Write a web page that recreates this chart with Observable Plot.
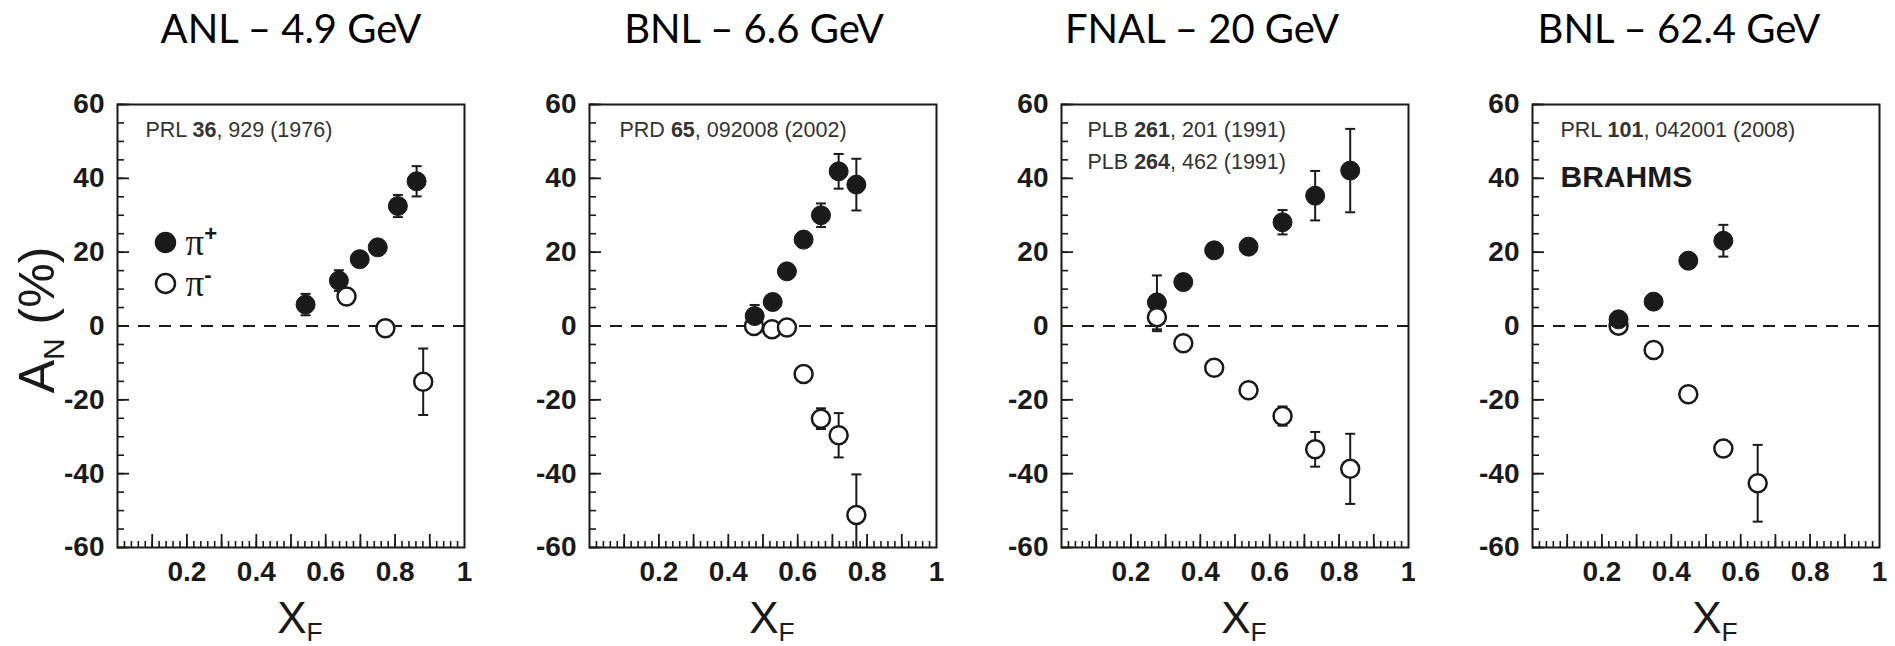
<!DOCTYPE html>
<html><head><meta charset="utf-8">
<script src="https://cdn.jsdelivr.net/npm/d3@7"></script>
<script src="https://cdn.jsdelivr.net/npm/@observablehq/plot@0.6"></script>
<style>
html,body{margin:0;padding:0;background:#fff;}
#row{display:flex;width:1895px;height:646px;overflow:hidden;}
#row svg{display:block;flex:none;}
</style></head><body><div id="row"></div>
<script>
// ---------- text ----------
const panelTitles = ["ANL – 4.9 GeV", "BNL – 6.6 GeV", "FNAL – 20 GeV", "BNL – 62.4 GeV"];
const panelRefs = [
  ["PRL **36**, 929 (1976)"],
  ["PRD **65**, 092008 (2002)"],
  ["PLB **261**, 201 (1991)", "PLB **264**, 462 (1991)"],
  ["PRL **101**, 042001 (2008)"]
];
const panelNotes = ["", "", "", "BRAHMS"];
const yTitle = "A_{N} (%)";
const xTitle = "X_{F}";
const legendLabels = ["π^{+}", "π^{-}"];
const yTickLabels = [-60, -40, -20, 0, 20, 40, 60];
const xTickLabels = [0.2, 0.4, 0.6, 0.8, 1];

// ---------- ANL 4.9 GeV ----------
const anlPlusX = [0.542, 0.638, 0.698, 0.750, 0.808, 0.862];
const anlPlusA = [5.8, 12.3, 18.1, 21.3, 32.5, 39.2];
const anlPlusE = [2.9, 2.8, 2.0, 2.0, 3.0, 4.1];
const anlMinusX = [0.660, 0.772, 0.881];
const anlMinusA = [8.0, -0.6, -15.1];
const anlMinusE = [2.0, 2.0, 9.0];

// ---------- BNL 6.6 GeV ----------
const bnl6PlusX = [0.476, 0.528, 0.569, 0.617, 0.667, 0.718, 0.769];
const bnl6PlusA = [2.7, 6.5, 14.8, 23.4, 30.0, 41.9, 38.3];
const bnl6PlusE = [3.0, 2.0, 2.0, 2.0, 3.2, 4.7, 7.0];
const bnl6MinusX = [0.474, 0.526, 0.569, 0.617, 0.667, 0.718, 0.769];
const bnl6MinusA = [0.0, -0.9, -0.4, -13.0, -25.1, -29.6, -51.2];
const bnl6MinusE = [1.5, 1.5, 1.5, 2.0, 2.8, 6.0, 11.0];

// ---------- FNAL 20 GeV ----------
const fnalPlusX = [0.275, 0.351, 0.440, 0.539, 0.637, 0.731, 0.832];
const fnalPlusA = [6.4, 11.9, 20.5, 21.5, 28.1, 35.3, 42.1];
const fnalPlusE = [7.3, 2.0, 2.0, 2.0, 3.3, 6.7, 11.3];
const fnalMinusX = [0.275, 0.351, 0.440, 0.539, 0.637, 0.731, 0.832];
const fnalMinusA = [2.4, -4.7, -11.3, -17.4, -24.4, -33.4, -38.7];
const fnalMinusE = [3.8, 2.0, 2.0, 2.0, 2.6, 4.7, 9.5];

// ---------- BNL 62.4 GeV ----------
const bnl62PlusX = [0.248, 0.349, 0.449, 0.550];
const bnl62PlusA = [1.8, 6.6, 17.7, 23.1];
const bnl62PlusE = [2.0, 2.0, 2.0, 4.3];
const bnl62MinusX = [0.248, 0.349, 0.449, 0.550, 0.649];
const bnl62MinusA = [0.1, -6.5, -18.5, -33.2, -42.6];
const bnl62MinusE = [2.0, 2.0, 2.0, 2.0, 10.4];

// ---------- build ----------
const rows = (X, A, E) => X.map((x, i) => ({x, a: A[i], e: E[i]}));
const panels = [
  {plus: rows(anlPlusX, anlPlusA, anlPlusE), minus: rows(anlMinusX, anlMinusA, anlMinusE), openOnTop: true},
  {plus: rows(bnl6PlusX, bnl6PlusA, bnl6PlusE), minus: rows(bnl6MinusX, bnl6MinusA, bnl6MinusE), openOnTop: false},
  {plus: rows(fnalPlusX, fnalPlusA, fnalPlusE), minus: rows(fnalMinusX, fnalMinusA, fnalMinusE), openOnTop: true},
  {plus: rows(bnl62PlusX, bnl62PlusA, bnl62PlusE), minus: rows(bnl62MinusX, bnl62MinusA, bnl62MinusE), openOnTop: false}
];

const ink = "#1a1a1a";
const tickFont = "'Liberation Sans Narrow', 'Liberation Sans', Arial, sans-serif";
const sansFont = "'Liberation Sans', Arial, sans-serif";
const svgWidths = [472, 472, 471, 480];
const mL = 117, mT = 104, frameW = 347, frameH = 443, H = 646;
const titleDx = [0, -9, -33, -27];
const refDx = [28, 30, 26, 28];

const cap = {draw(ctx, size) { const r = Math.sqrt(size / Math.PI); ctx.moveTo(-r, 0); ctx.lineTo(r, 0); }};

function errorMarks(data) {
  return [
    Plot.ruleX(data, {x: "x", y1: d => d.a - d.e, y2: d => d.a + d.e, stroke: ink, strokeWidth: 2, clip: true}),
    Plot.dot(data, {x: "x", y: d => d.a + d.e, symbol: cap, r: 5, stroke: ink, strokeWidth: 2, fill: "none", clip: true}),
    Plot.dot(data, {x: "x", y: d => d.a - d.e, symbol: cap, r: 5, stroke: ink, strokeWidth: 2, fill: "none", clip: true})
  ];
}
const filledDots = (data) => Plot.dot(data, {x: "x", y: "a", r: 9.5, fill: ink, stroke: ink, strokeWidth: 1});
const openDots = (data) => Plot.dot(data, {x: "x", y: "a", r: 9, fill: "white", stroke: ink, strokeWidth: 2.5});

function makePanel(p, i) {
  const width = svgWidths[i];
  const marks = [
    Plot.ruleY([0], {stroke: ink, strokeWidth: 2, strokeDasharray: "12,9"}),
    // axes
    Plot.axisY({ticks: d3.range(-60, 61, 5), tickSize: -7, fill: "none", stroke: ink, strokeWidth: 1.6, label: null}),
    Plot.axisY({ticks: yTickLabels, tickSize: -12, fill: "none", stroke: ink, strokeWidth: 1.8, label: null}),
    Plot.axisY({ticks: yTickLabels, tickSize: 0, tickPadding: 13, tickFormat: d => String(d), fill: ink,
      fontSize: 28, fontWeight: "bold", fontFamily: tickFont, label: null}),
    Plot.axisX({ticks: d3.range(1, 50).map(k => k * 0.02), tickSize: -6, fill: "none", stroke: ink, strokeWidth: 1.6, label: null}),
    Plot.axisX({ticks: d3.range(1, 10).map(k => k / 10), tickSize: -13, fill: "none", stroke: ink, strokeWidth: 1.8, label: null}),
    Plot.axisX({ticks: xTickLabels, tickSize: 0, tickPadding: 14, tickFormat: d => String(d), fill: ink,
      fontSize: 28, fontWeight: "bold", fontFamily: tickFont, label: null}),
    Plot.frame({stroke: ink, strokeWidth: 2}),
    // title
    Plot.text([panelTitles[i]], {frameAnchor: "top", dx: titleDx[i], dy: 42 - mT, lineAnchor: "bottom",
      fontSize: 40, fontFamily: "Lato, 'Open Sans', sans-serif", fill: "#000"}),
    // x title
    Plot.text([xTitle], {frameAnchor: "bottom", dx: 9, dy: 85, lineAnchor: "bottom",
      fontSize: 44, fontFamily: sansFont, fill: ink}),
    // reference lines
    ...panelRefs[i].map((r, k) => Plot.text([r], {frameAnchor: "top-left", dx: refDx[i], dy: 32 + 32 * k,
      lineAnchor: "bottom", textAnchor: "start", fontSize: 21.5, fontFamily: sansFont, fill: "#333"}))
  ];
  if (panelNotes[i]) marks.push(Plot.text([panelNotes[i]], {frameAnchor: "top-left", dx: refDx[i], dy: 82,
      lineAnchor: "bottom", textAnchor: "start", fontSize: 30, fontWeight: "bold", fontFamily: sansFont, fill: ink}));
  if (i === 0) {
    marks.push(
      Plot.text([yTitle], {frameAnchor: "left", rotate: -90, dx: -64, dy: -6, lineAnchor: "bottom",
        textAnchor: "middle", fontSize: 50, fontFamily: sansFont, fill: ink}),
      Plot.dot([legendLabels[0]], {frameAnchor: "top-left", dx: 48, dy: 138, r: 10, fill: ink, stroke: ink}),
      Plot.dot([legendLabels[1]], {frameAnchor: "top-left", dx: 48, dy: 179, r: 9.5, fill: "white", stroke: ink, strokeWidth: 2.5}),
      Plot.text([legendLabels[0]], {frameAnchor: "top-left", dx: 68, dy: 150, lineAnchor: "bottom", textAnchor: "start",
        fontSize: 37, fontFamily: "'Liberation Serif', 'DejaVu Serif', serif", fill: ink}),
      Plot.text([legendLabels[1]], {frameAnchor: "top-left", dx: 68, dy: 191, lineAnchor: "bottom", textAnchor: "start",
        fontSize: 37, fontFamily: "'Liberation Serif', 'DejaVu Serif', serif", fill: ink})
    );
  }
  marks.push(...errorMarks(p.minus), ...errorMarks(p.plus));
  if (p.openOnTop) marks.push(filledDots(p.plus), openDots(p.minus));
  else marks.push(openDots(p.minus), filledDots(p.plus));

  return Plot.plot({
    width, height: H,
    marginLeft: mL, marginTop: mT, marginRight: width - mL - frameW, marginBottom: H - mT - frameH,
    x: {domain: [0, 1]},
    y: {domain: [-60, 60]},
    style: {background: "white", overflow: "visible"},
    marks
  });
}

function richify(svg) {
  d3.select(svg).selectAll("text").each(function () {
    const s = this.textContent;
    if (!/\*\*|_\{|\^\{/.test(s)) return;
    const fs = parseFloat(getComputedStyle(this).fontSize) || 16;
    const parts = s.split(/(\*\*[^*]+\*\*|_\{[^}]*\}|\^\{[^}]*\})/).filter(t => t !== "");
    const el = d3.select(this);
    el.text(null);
    let shift = 0;
    for (const t of parts) {
      if (t.startsWith("**")) {
        el.append("tspan").attr("font-weight", "bold").attr("dy", -shift).text(t.slice(2, -2)); shift = 0;
      } else if (t.startsWith("_{")) {
        const d = 0.2 * fs;
        el.append("tspan").attr("font-size", 0.6 * fs).attr("dy", d - shift).text(t.slice(2, -1)); shift = d;
      } else if (t.startsWith("^{")) {
        const d = -0.36 * fs;
        el.append("tspan").attr("font-size", 0.6 * fs).attr("font-weight", "bold")
          .attr("font-family", sansFont).attr("dy", d - shift).text(t.slice(2, -1)); shift = d;
      } else {
        el.append("tspan").attr("dy", -shift).text(t); shift = 0;
      }
    }
  });
}

const row = document.getElementById("row");
panels.forEach((p, i) => {
  const svg = makePanel(p, i);
  row.appendChild(svg);
  richify(svg);
});
</script></body></html>
